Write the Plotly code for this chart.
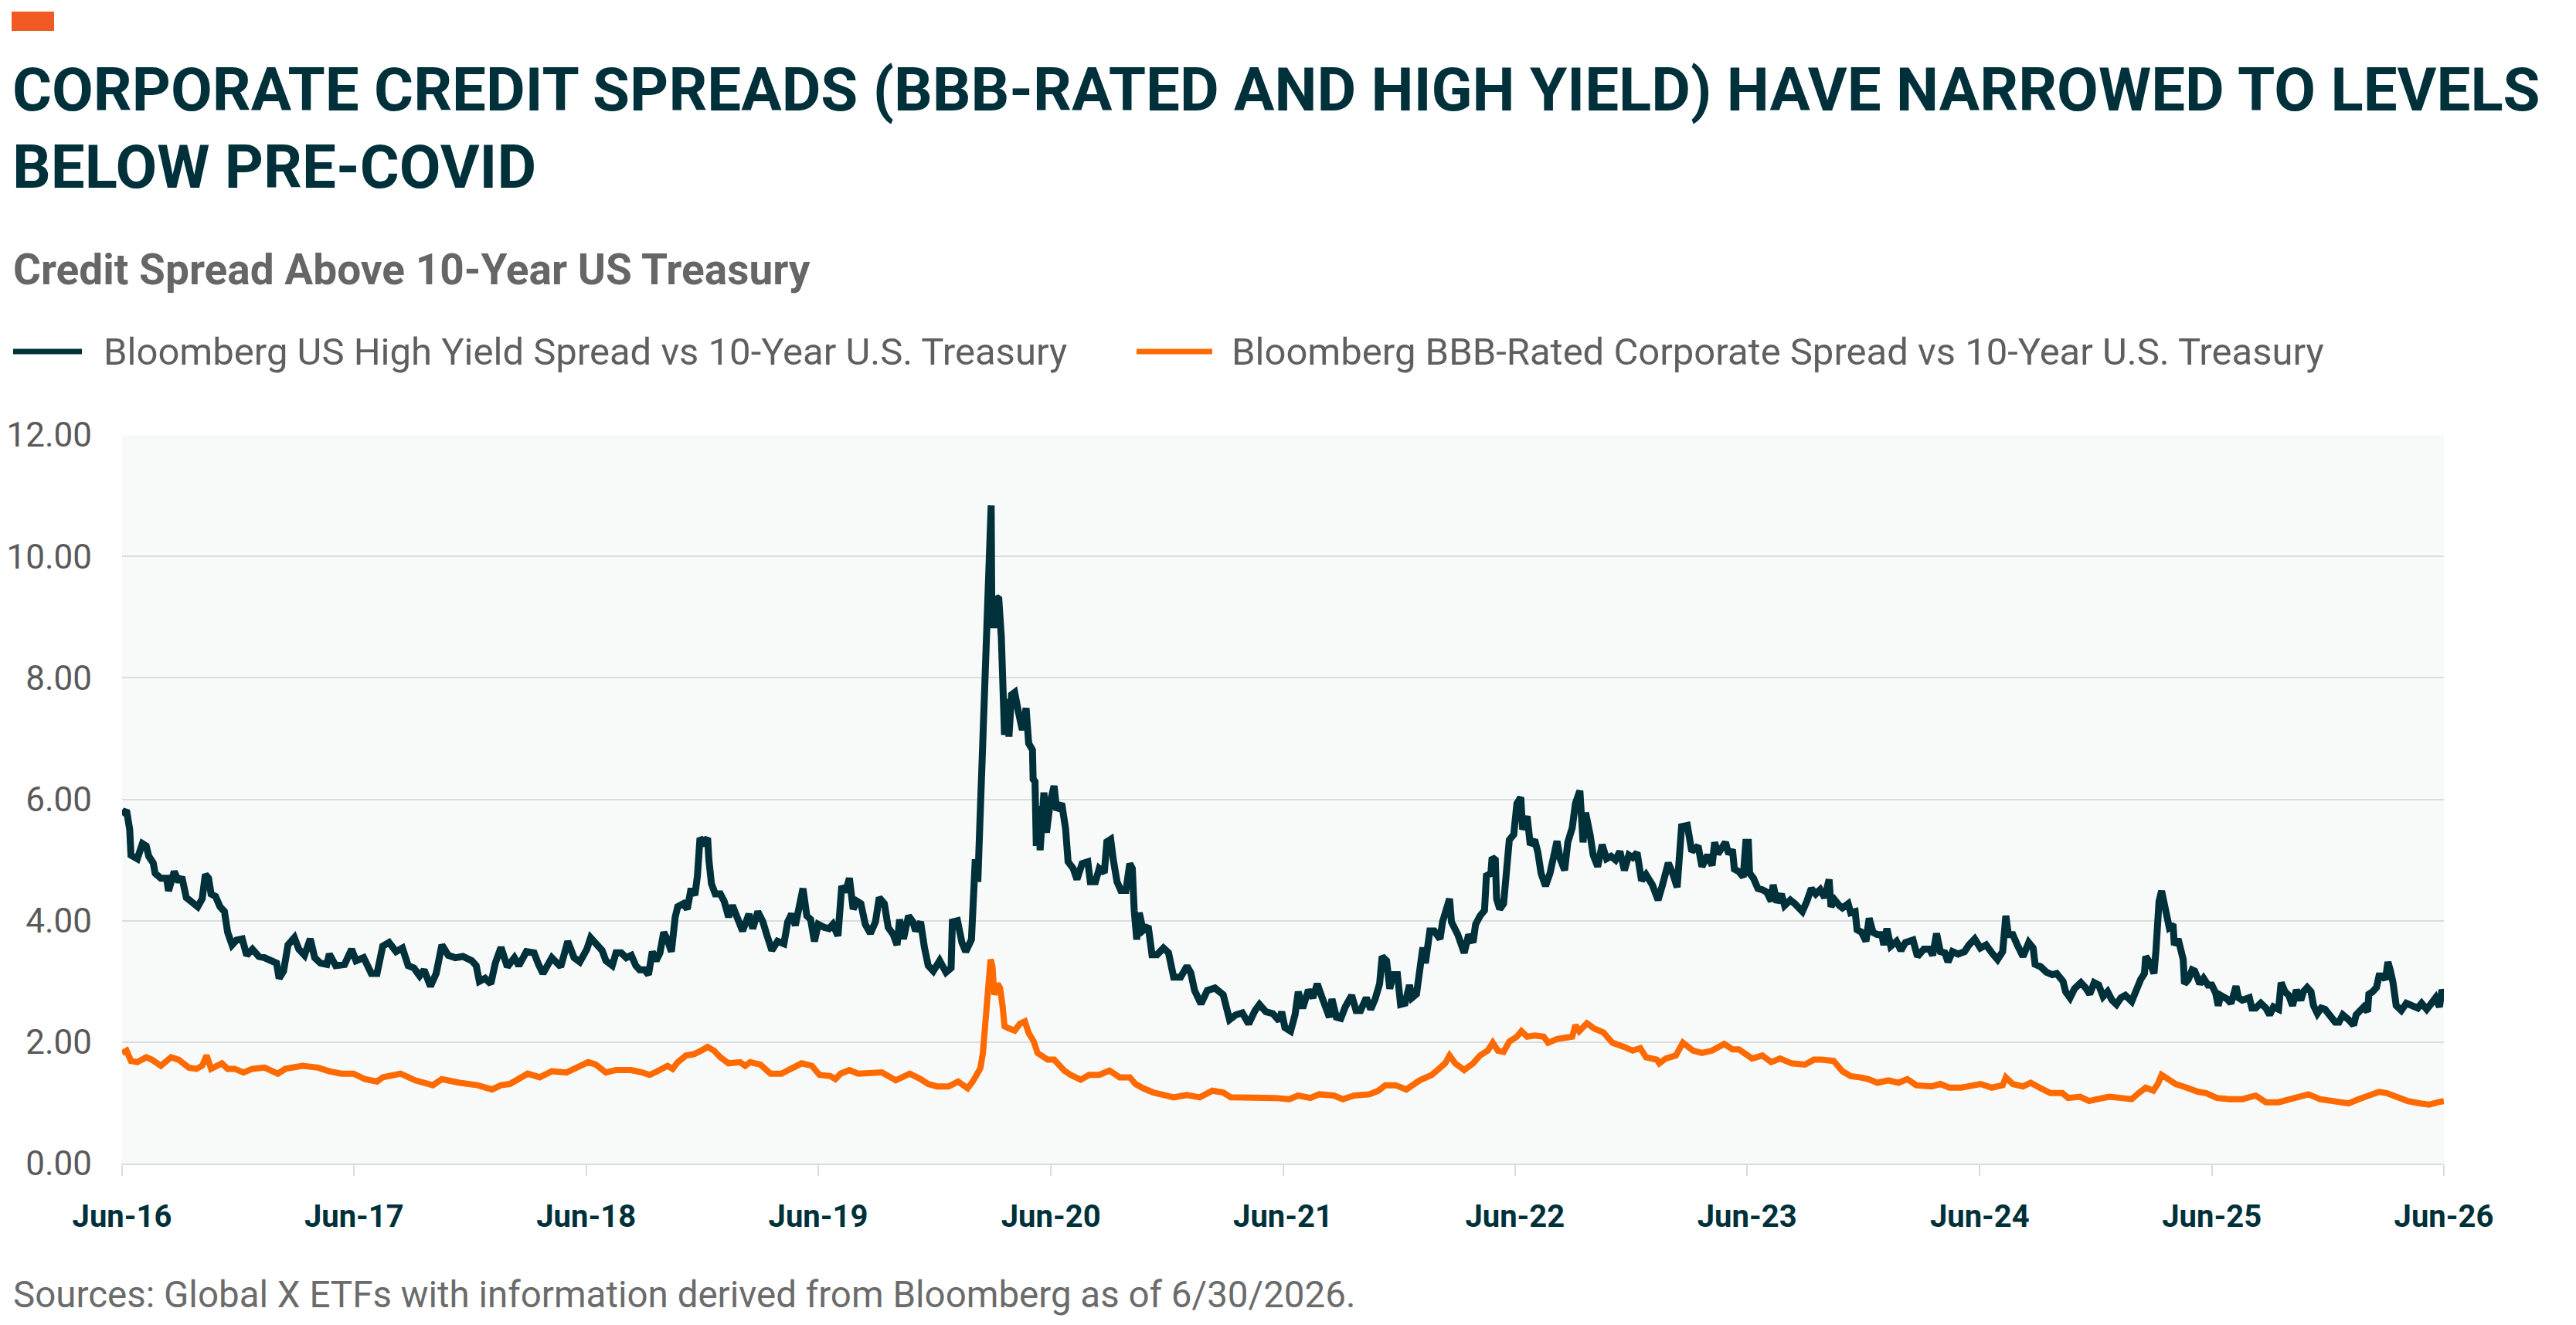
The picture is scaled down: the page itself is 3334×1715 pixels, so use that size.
import plotly.graph_objects as go

# ---------------- data ----------------
hy_dates = [
 "2016-06-30","2016-07-07","2016-07-12","2016-07-14","2016-07-24","2016-08-01","2016-08-07","2016-08-11","2016-08-18","2016-08-21",
 "2016-08-30","2016-09-08","2016-09-11","2016-09-20","2016-09-27","2016-10-02","2016-10-09","2016-10-18","2016-10-27","2016-11-03",
 "2016-11-08","2016-11-13","2016-11-17","2016-11-24","2016-12-01","2016-12-08","2016-12-13","2016-12-20","2016-12-27",
 "2017-01-05","2017-01-12","2017-01-21","2017-01-31","2017-02-09","2017-02-18","2017-02-28","2017-03-04","2017-03-11","2017-03-18",
 "2017-03-28","2017-04-04","2017-04-13","2017-04-22","2017-04-29","2017-05-08","2017-05-18","2017-05-22","2017-06-01","2017-06-15",
 "2017-06-26","2017-07-03","2017-07-15","2017-07-27","2017-08-05","2017-08-14","2017-08-24","2017-09-04","2017-09-14","2017-09-23",
 "2017-10-02","2017-10-11","2017-10-18","2017-10-28","2017-11-06","2017-11-15","2017-11-25","2017-12-06","2017-12-18",
 "2018-01-01","2018-01-08","2018-01-13","2018-01-22","2018-01-31","2018-02-07","2018-02-16","2018-02-26","2018-03-09","2018-03-16",
 "2018-03-28","2018-04-09","2018-04-16","2018-04-23","2018-05-07","2018-05-21","2018-06-01","2018-06-11","2018-06-20","2018-06-27",
 "2018-07-01","2018-07-07","2018-07-13","2018-07-19","2018-07-25","2018-07-31","2018-08-04","2018-08-10","2018-08-16","2018-08-24",
 "2018-09-01","2018-09-09","2018-09-16","2018-09-22","2018-09-30","2018-10-06","2018-10-12","2018-10-18","2018-10-24","2018-10-30",
 "2018-11-05","2018-11-11","2018-11-17","2018-11-21","2018-11-30","2018-12-06","2018-12-12","2018-12-18","2018-12-22","2018-12-26",
 "2019-01-01","2019-01-07","2019-01-09","2019-01-13","2019-01-19","2019-01-27","2019-02-02","2019-02-09","2019-02-15","2019-02-23",
 "2019-03-03","2019-03-13","2019-03-19","2019-03-27","2019-04-04","2019-04-10","2019-04-18","2019-04-27","2019-05-07","2019-05-13",
 "2019-05-19","2019-05-25","2019-05-31","2019-06-06","2019-06-12","2019-06-18","2019-06-24","2019-06-30","2019-07-09","2019-07-17",
 "2019-07-23","2019-07-31","2019-08-06","2019-08-12","2019-08-18","2019-08-24","2019-08-30","2019-09-05","2019-09-12","2019-09-20",
 "2019-09-28","2019-10-04","2019-10-12","2019-10-18","2019-10-26","2019-11-01","2019-11-05","2019-11-11","2019-11-19","2019-11-26",
 "2019-11-30","2019-12-08","2019-12-14","2019-12-20","2019-12-28",
 "2020-01-07","2020-01-17","2020-01-25","2020-01-27","2020-02-04","2020-02-11","2020-02-17","2020-02-26","2020-02-28","2020-03-03",
 "2020-03-07","2020-03-11","2020-03-15","2020-03-16","2020-03-19","2020-03-23","2020-03-26","2020-03-28","2020-03-29","2020-04-01",
 "2020-04-05","2020-04-09","2020-04-13","2020-04-15","2020-04-18","2020-04-21","2020-04-25","2020-04-29","2020-05-04","2020-05-10",
 "2020-05-16","2020-05-22","2020-05-26","2020-06-01","2020-06-02","2020-06-05","2020-06-07","2020-06-11","2020-06-13","2020-06-19",
 "2020-06-23","2020-06-29","2020-07-05","2020-07-09","2020-07-17","2020-07-23","2020-07-27","2020-08-04","2020-08-10","2020-08-18",
 "2020-08-27","2020-08-31","2020-09-08","2020-09-14","2020-09-22","2020-09-26","2020-10-02","2020-10-06","2020-10-12","2020-10-18",
 "2020-10-26","2020-11-01","2020-11-05","2020-11-08","2020-11-12","2020-11-16","2020-11-22","2020-11-30","2020-12-06","2020-12-14",
 "2020-12-24",
 "2021-01-01","2021-01-09","2021-01-20","2021-01-30","2021-02-05","2021-02-11","2021-02-21","2021-03-03","2021-03-15","2021-03-28",
 "2021-04-07","2021-04-17","2021-04-27","2021-05-07","2021-05-17","2021-05-24","2021-06-03","2021-06-14","2021-06-24","2021-06-28",
 "2021-07-03","2021-07-12","2021-07-19","2021-07-24","2021-07-31","2021-08-09","2021-08-16","2021-08-23","2021-08-30","2021-09-06",
 "2021-09-11","2021-09-15","2021-09-22","2021-09-29","2021-10-06","2021-10-16","2021-10-23","2021-10-30","2021-11-08","2021-11-15",
 "2021-11-22","2021-11-29","2021-12-03","2021-12-10","2021-12-15","2021-12-20","2021-12-27",
 "2022-01-01","2022-01-08","2022-01-15","2022-01-19","2022-01-26","2022-01-31","2022-02-05","2022-02-09","2022-02-16","2022-02-23",
 "2022-03-04","2022-03-08","2022-03-13","2022-03-19","2022-03-22","2022-04-01","2022-04-11","2022-04-18","2022-04-25","2022-04-29",
 "2022-05-06","2022-05-13","2022-05-16","2022-05-23","2022-05-25","2022-05-30","2022-06-01","2022-06-06","2022-06-12","2022-06-16",
 "2022-06-21","2022-06-28","2022-07-03","2022-07-09","2022-07-12","2022-07-19","2022-07-24","2022-07-31","2022-08-05","2022-08-10",
 "2022-08-17","2022-08-24","2022-08-28","2022-09-04","2022-09-09","2022-09-16","2022-09-21","2022-09-28","2022-10-03","2022-10-10",
 "2022-10-15","2022-10-19","2022-10-26","2022-10-31","2022-11-07","2022-11-14","2022-11-21","2022-11-28","2022-12-05","2022-12-12",
 "2022-12-19","2022-12-26",
 "2023-01-01","2023-01-08","2023-01-15","2023-01-22","2023-02-01","2023-02-10","2023-02-17","2023-02-26","2023-03-05","2023-03-12",
 "2023-03-19","2023-03-28","2023-04-04","2023-04-14","2023-04-20","2023-04-29","2023-05-06","2023-05-10","2023-05-15","2023-05-22",
 "2023-05-27","2023-06-01","2023-06-07","2023-06-10","2023-06-17","2023-06-24","2023-06-28","2023-07-02","2023-07-04","2023-07-10",
 "2023-07-17","2023-07-24","2023-07-31","2023-08-07","2023-08-10","2023-08-16","2023-08-23","2023-08-28","2023-09-06","2023-09-13",
 "2023-09-25","2023-10-02","2023-10-09","2023-10-16","2023-10-23","2023-10-30","2023-11-06","2023-11-09","2023-11-15","2023-11-22",
 "2023-11-27","2023-12-06","2023-12-10","2023-12-17","2023-12-20","2023-12-27",
 "2024-01-03","2024-01-08","2024-01-14","2024-01-21","2024-01-28","2024-01-31","2024-02-05","2024-02-11","2024-02-20","2024-02-27",
 "2024-03-05","2024-03-17","2024-03-24","2024-04-03","2024-04-12","2024-04-17","2024-04-23","2024-04-29","2024-05-06","2024-05-11",
 "2024-05-18","2024-05-27","2024-06-06","2024-06-13","2024-06-22","2024-07-01","2024-07-10","2024-07-19","2024-07-28","2024-08-05",
 "2024-08-07","2024-08-10","2024-08-14","2024-08-21","2024-08-28","2024-09-06","2024-09-15","2024-09-22","2024-09-25","2024-10-04",
 "2024-10-13","2024-10-22","2024-10-29","2024-11-08","2024-11-12","2024-11-19","2024-11-26","2024-12-06","2024-12-13","2024-12-20",
 "2024-12-27",
 "2025-01-03","2025-01-10","2025-01-17","2025-01-24","2025-01-31","2025-02-07","2025-02-14","2025-02-24","2025-03-03","2025-03-10",
 "2025-03-16","2025-03-18","2025-03-25","2025-03-31","2025-04-03","2025-04-08","2025-04-12","2025-04-18","2025-04-24","2025-04-30",
 "2025-05-02","2025-05-08","2025-05-12","2025-05-16","2025-05-18","2025-05-24","2025-05-30","2025-06-03","2025-06-07","2025-06-11",
 "2025-06-17","2025-06-24","2025-06-30","2025-07-06","2025-07-10","2025-07-14","2025-07-24","2025-07-30","2025-08-03","2025-08-07",
 "2025-08-11","2025-08-17","2025-08-28","2025-09-01","2025-09-07","2025-09-15","2025-09-23","2025-09-29","2025-10-05","2025-10-13",
 "2025-10-17","2025-10-23","2025-10-29","2025-11-04","2025-11-10","2025-11-17","2025-11-21","2025-11-27","2025-12-03","2025-12-07",
 "2025-12-13","2025-12-19","2025-12-25",
 "2026-01-02","2026-01-10","2026-01-16","2026-01-22","2026-01-31","2026-02-08","2026-02-12","2026-02-18","2026-02-24","2026-03-02",
 "2026-03-04","2026-03-10","2026-03-16","2026-03-20","2026-03-26","2026-03-30","2026-04-03","2026-04-07","2026-04-11","2026-04-16",
 "2026-04-24","2026-05-02","2026-05-12","2026-05-20","2026-05-26","2026-06-03","2026-06-09","2026-06-17","2026-06-23","2026-06-27",
 "2026-06-30",
]
hy_values = [
 5.74,5.82,5.50,5.08,5.02,5.27,5.23,5.06,4.95,4.78,
 4.70,4.70,4.49,4.81,4.64,4.72,4.38,4.32,4.23,4.36,
 4.76,4.70,4.44,4.40,4.23,4.15,3.81,3.60,3.68,
 3.70,3.43,3.53,3.41,3.39,3.34,3.30,3.05,3.17,3.60,
 3.72,3.53,3.43,3.70,3.39,3.30,3.28,3.45,3.26,3.28,
 3.53,3.34,3.39,3.13,3.13,3.58,3.64,3.49,3.55,3.26,
 3.22,3.09,3.19,2.92,3.13,3.60,3.43,3.39,3.41,
 3.34,3.26,3.00,3.05,2.96,3.30,3.56,3.24,3.39,3.26,
 3.49,3.47,3.28,3.13,3.39,3.24,3.66,3.39,3.32,3.43,
 3.53,3.72,3.66,3.58,3.51,3.34,3.30,3.26,3.47,3.47,
 3.39,3.43,3.26,3.19,3.19,3.11,3.49,3.34,3.47,3.81,
 3.68,3.49,4.06,4.23,4.28,4.19,4.53,4.42,4.74,5.36,
 5.29,5.36,5.00,4.61,4.44,4.44,4.32,4.06,4.25,4.04,
 3.83,4.11,3.87,4.15,3.98,3.77,3.51,3.66,3.62,3.98,
 4.11,3.92,4.28,4.53,4.08,4.02,3.66,3.94,3.89,3.87,
 3.94,3.75,4.57,4.47,4.70,4.19,4.32,4.28,3.94,3.79,
 3.98,4.38,4.28,3.89,3.77,3.60,4.02,3.70,4.08,3.98,
 3.83,3.98,3.56,3.26,3.17,
 3.34,3.15,3.22,3.98,4.00,3.64,3.49,3.69,4.17,5.01,
 4.64,5.96,6.62,7.43,8.31,10.07,10.84,10.84,9.19,8.82,
 9.33,9.30,8.67,7.72,7.06,7.65,7.03,7.72,7.76,7.43,
 7.14,7.50,6.92,6.81,6.33,6.29,5.23,5.89,5.16,6.11,
 5.45,5.96,6.22,5.82,5.93,5.52,4.97,4.86,4.68,4.94,
 4.97,4.64,4.64,4.86,4.79,5.30,5.34,5.01,4.64,4.50,
 4.50,4.94,4.86,4.17,3.69,4.13,3.84,3.91,3.44,3.44,
 3.55,
 3.47,3.07,3.07,3.25,3.14,2.85,2.63,2.85,2.89,2.78,
 2.37,2.45,2.48,2.30,2.52,2.62,2.50,2.47,2.35,2.50,
 2.24,2.18,2.45,2.83,2.56,2.86,2.73,2.96,2.75,2.54,
 2.41,2.71,2.41,2.39,2.58,2.77,2.52,2.52,2.73,2.54,
 2.71,2.96,3.41,3.34,2.88,3.11,3.11,
 2.62,2.64,2.94,2.73,2.79,3.22,3.56,3.30,3.83,3.83,
 3.70,3.98,4.21,4.36,3.98,3.77,3.47,3.77,3.64,3.94,
 4.08,4.17,4.74,4.78,5.04,5.00,4.36,4.19,4.28,4.78,
 5.33,5.42,5.93,6.03,5.50,5.72,5.25,5.33,5.12,4.78,
 4.57,4.78,4.95,5.31,5.02,4.83,5.29,5.53,5.93,6.14,
 5.29,5.78,5.42,5.08,4.89,5.25,5.02,5.06,5.00,5.14,
 4.83,5.08,
 5.04,5.12,4.66,4.76,4.59,4.34,4.59,4.95,4.78,4.55,
 5.55,5.57,5.14,5.23,4.89,5.08,4.91,5.29,5.10,5.23,
 5.29,5.10,5.17,4.85,4.81,4.72,5.29,5.29,4.78,4.70,
 4.53,4.51,4.47,4.32,4.59,4.30,4.44,4.25,4.34,4.28,
 4.15,4.32,4.53,4.44,4.51,4.38,4.68,4.23,4.34,4.25,
 4.21,4.28,4.13,4.15,3.85,3.81,
 3.66,4.04,3.81,3.77,3.77,3.60,3.87,3.58,3.66,3.51,
 3.64,3.68,3.41,3.53,3.53,3.43,3.79,3.49,3.47,3.32,
 3.49,3.45,3.49,3.60,3.70,3.55,3.60,3.47,3.36,3.49,
 3.94,4.08,3.77,3.77,3.60,3.41,3.64,3.55,3.28,3.24,
 3.15,3.11,3.13,3.00,2.83,2.73,2.88,2.98,2.90,2.79,
 2.98,
 2.94,2.75,2.83,2.69,2.62,2.73,2.77,2.67,2.86,3.03,
 3.13,3.41,3.30,3.13,3.49,4.32,4.49,4.15,3.89,3.94,
 3.60,3.70,3.47,3.36,2.96,3.03,3.19,3.17,3.07,2.96,
 3.05,2.94,2.94,2.81,2.60,2.77,2.71,2.64,2.77,2.92,
 2.73,2.69,2.73,2.56,2.56,2.64,2.56,2.45,2.58,2.54,
 2.98,2.83,2.77,2.60,2.86,2.69,2.83,2.90,2.83,2.60,
 2.47,2.56,2.54,
 2.45,2.33,2.33,2.45,2.37,2.28,2.45,2.50,2.58,2.50,
 2.79,2.83,2.90,3.09,3.09,3.03,3.32,3.17,2.98,2.60,
 2.52,2.64,2.58,2.56,2.64,2.54,2.62,2.73,2.58,2.86,
 2.79,
]

bbb_dates = [
 "2016-06-30","2016-07-07","2016-07-14","2016-07-24","2016-08-07","2016-08-16","2016-08-30","2016-09-15","2016-09-27","2016-10-13",
 "2016-10-25","2016-11-03","2016-11-10","2016-11-17","2016-12-04","2016-12-13","2016-12-24",
 "2017-01-07","2017-01-21","2017-02-09","2017-03-02","2017-03-14","2017-04-10","2017-05-04","2017-05-22","2017-06-10","2017-06-29",
 "2017-07-17","2017-08-05","2017-08-14","2017-09-11","2017-10-04","2017-11-01","2017-11-15","2017-12-13",
 "2018-01-10","2018-02-02","2018-02-16","2018-03-02","2018-03-16","2018-03-30","2018-04-18","2018-05-07","2018-05-30","2018-06-20",
 "2018-07-03","2018-07-15","2018-07-31","2018-08-16","2018-09-09","2018-09-26","2018-10-08","2018-10-20","2018-11-05","2018-11-13",
 "2018-11-21","2018-12-04","2018-12-16","2018-12-28",
 "2019-01-07","2019-01-17","2019-01-27","2019-02-09","2019-02-27","2019-03-07","2019-03-15","2019-03-31","2019-04-16","2019-05-03",
 "2019-05-19","2019-06-04","2019-06-20","2019-07-02","2019-07-19","2019-07-27","2019-08-04","2019-08-18","2019-09-01","2019-09-18",
 "2019-10-08","2019-10-30","2019-11-21","2019-12-08","2019-12-20",
 "2020-01-03","2020-01-21","2020-02-05","2020-02-17","2020-02-20","2020-02-28","2020-03-05","2020-03-11","2020-03-15","2020-03-19",
 "2020-03-23","2020-03-27","2020-03-30","2020-04-02","2020-04-07","2020-04-11","2020-04-15","2020-04-18","2020-04-24","2020-05-04",
 "2020-05-12","2020-05-20","2020-05-26","2020-06-03","2020-06-09","2020-06-17","2020-06-25","2020-07-05","2020-07-11","2020-07-21",
 "2020-07-31","2020-08-16","2020-08-29","2020-09-14","2020-09-30","2020-10-16","2020-11-01","2020-11-10","2020-11-22","2020-12-08",
 "2020-12-24",
 "2021-01-09","2021-01-30","2021-02-19","2021-03-11","2021-03-28","2021-04-09","2021-04-29","2021-05-15","2021-05-20","2021-06-17",
 "2021-07-10","2021-07-24","2021-08-12","2021-08-26","2021-09-18","2021-10-02","2021-10-20","2021-11-13","2021-11-27","2021-12-08",
 "2021-12-24",
 "2022-01-10","2022-01-31","2022-02-19","2022-02-28","2022-03-12","2022-03-19","2022-03-28","2022-04-11","2022-04-25","2022-05-06",
 "2022-05-18","2022-05-26","2022-06-03","2022-06-12","2022-06-21","2022-07-03","2022-07-10","2022-07-19","2022-07-31","2022-08-14",
 "2022-08-21","2022-09-04","2022-09-16","2022-09-28","2022-10-03","2022-10-09","2022-10-21","2022-11-02","2022-11-16","2022-11-30",
 "2022-12-19",
 "2023-01-01","2023-01-13","2023-01-22","2023-02-08","2023-02-12","2023-02-22","2023-03-10","2023-03-21","2023-04-06","2023-04-20",
 "2023-05-06","2023-05-25","2023-06-07","2023-06-17","2023-06-26","2023-07-08","2023-07-24","2023-08-07","2023-08-21","2023-09-08",
 "2023-09-29","2023-10-13","2023-10-25","2023-11-13","2023-11-27","2023-12-10","2023-12-24",
 "2024-01-07","2024-01-21","2024-02-07","2024-02-23","2024-03-08","2024-03-22","2024-04-15","2024-04-29","2024-05-13","2024-06-01",
 "2024-06-15","2024-07-01","2024-07-19","2024-08-05","2024-08-10","2024-08-21","2024-09-06","2024-09-18","2024-10-02","2024-10-19",
 "2024-11-07","2024-11-16","2024-12-05","2024-12-19",
 "2025-01-01","2025-01-20","2025-02-07","2025-02-24","2025-03-07","2025-03-18","2025-03-30","2025-04-06","2025-04-12","2025-04-22",
 "2025-05-04","2025-05-16","2025-05-28","2025-06-09","2025-06-21","2025-07-08","2025-07-28","2025-08-17","2025-09-07","2025-09-23",
 "2025-10-13","2025-10-29","2025-11-15","2025-11-29","2025-12-17",
 "2026-01-06","2026-01-31","2026-02-16","2026-03-08","2026-03-20","2026-04-01","2026-04-14","2026-05-04","2026-05-24","2026-06-07",
 "2026-06-21","2026-06-30",
]
bbb_values = [
 1.82,1.86,1.69,1.67,1.75,1.71,1.61,1.75,1.71,1.58,
 1.56,1.61,1.78,1.56,1.65,1.56,1.56,
 1.50,1.56,1.58,1.48,1.56,1.61,1.58,1.52,1.48,1.48,
 1.39,1.35,1.42,1.48,1.37,1.29,1.39,1.33,
 1.29,1.22,1.29,1.31,1.39,1.48,1.42,1.52,1.50,1.60,
 1.67,1.63,1.50,1.54,1.54,1.50,1.46,1.52,1.61,1.56,
 1.67,1.78,1.80,1.86,
 1.92,1.86,1.75,1.65,1.67,1.61,1.67,1.63,1.48,1.48,
 1.56,1.65,1.61,1.46,1.44,1.39,1.48,1.54,1.48,1.48,
 1.50,1.37,1.48,1.39,1.31,
 1.27,1.27,1.35,1.27,1.24,1.35,1.46,1.57,1.82,2.30,
 2.96,3.36,3.25,2.78,2.96,2.89,2.59,2.26,2.23,2.19,
 2.30,2.34,2.15,2.01,1.82,1.75,1.71,1.71,1.64,1.53,
 1.46,1.38,1.46,1.46,1.53,1.42,1.42,1.31,1.24,1.17,
 1.13,
 1.09,1.13,1.09,1.20,1.17,1.09,1.09,1.08,1.10,1.08,
 1.06,1.12,1.08,1.14,1.12,1.06,1.12,1.14,1.20,1.29,
 1.29,
 1.22,1.37,1.46,1.54,1.65,1.78,1.65,1.54,1.65,1.78,
 1.86,1.99,1.86,1.84,2.01,2.09,2.18,2.09,2.11,2.09,
 1.99,2.05,2.07,2.09,2.28,2.18,2.31,2.22,2.16,1.99,
 1.92,
 1.86,1.90,1.75,1.71,1.65,1.73,1.78,1.99,1.86,1.82,
 1.86,1.97,1.88,1.88,1.82,1.73,1.78,1.67,1.73,1.65,
 1.63,1.71,1.71,1.69,1.52,1.44,1.42,
 1.39,1.33,1.37,1.33,1.39,1.29,1.27,1.31,1.25,1.25,
 1.27,1.31,1.25,1.29,1.42,1.31,1.27,1.33,1.25,1.16,
 1.16,1.08,1.10,1.03,
 1.06,1.10,1.08,1.06,1.16,1.25,1.20,1.31,1.46,1.39,
 1.31,1.27,1.22,1.18,1.16,1.08,1.06,1.06,1.12,1.01,
 1.01,1.06,1.12,1.14,1.06,
 1.03,0.99,1.06,1.12,1.18,1.16,1.10,1.03,0.99,0.97,
 1.01,1.03,
]

series_names = [
 "Bloomberg US High Yield Spread vs 10-Year U.S. Treasury",
 "Bloomberg BBB-Rated Corporate Spread vs 10-Year U.S. Treasury",
]
tick_dates = ["2016-06-30","2017-06-30","2018-06-30","2019-06-30","2020-06-30",
              "2021-06-30","2022-06-30","2023-06-30","2024-06-30","2025-06-30","2026-06-30"]
tick_labels = ["Jun-16","Jun-17","Jun-18","Jun-19","Jun-20","Jun-21","Jun-22","Jun-23","Jun-24","Jun-25","Jun-26"]
y_ticks = [0, 2, 4, 6, 8, 10, 12]

title_lines = ["CORPORATE CREDIT SPREADS (BBB-RATED AND HIGH YIELD) HAVE NARROWED TO LEVELS",
               "BELOW PRE-COVID"]
subtitle = "Credit Spread Above 10-Year US Treasury"
source_note = "Sources: Global X ETFs with information derived from Bloomberg as of 6/30/2026."

# ---------------- styling ----------------
W, H = 3334, 1715
L, R, T, B = 158, 171, 563, 209
PW, PH = W - L - R, H - T - B
FONT = "Roboto, sans-serif"
DARK = "#00313a"
ORANGE = "#ff6a00"
ACCENT = "#f15a24"
GRID = "#dcdcdc"

def px(x):
    return (x - L) / PW

def py(y):
    return (H - B - y) / PH

fig = go.Figure()
fig.add_trace(go.Scatter(x=hy_dates, y=hy_values, mode="lines", name=series_names[0],
                         line=dict(color=DARK, width=9, shape="linear")))
fig.add_trace(go.Scatter(x=bbb_dates, y=bbb_values, mode="lines", name=series_names[1],
                         line=dict(color=ORANGE, width=8, shape="linear")))

fig.update_layout(
    width=W, height=H,
    margin=dict(l=L, r=R, t=T, b=B, pad=0, autoexpand=False),
    paper_bgcolor="white",
    plot_bgcolor="#f8f9f9",
    showlegend=False,
    font=dict(family=FONT, color="#595959"),
)
fig.update_xaxes(
    type="date", automargin=False,
    range=[tick_dates[0], tick_dates[-1]],
    tickmode="array", tickvals=tick_dates, ticktext=tick_labels,
    ticks="outside", ticklen=14, tickwidth=2, tickcolor=GRID,
    showgrid=False, showline=True, linecolor=GRID, linewidth=2,
    tickfont=dict(family=FONT, size=40, color=DARK, weight="bold"),
    ticklabelstandoff=18,
    zeroline=False,
)
fig.update_yaxes(
    automargin=False,
    range=[0, 12],
    tickmode="array", tickvals=y_ticks, ticktext=[f"{v:.2f}" for v in y_ticks],
    showgrid=True, gridcolor=GRID, gridwidth=2,
    zeroline=False, showline=False, ticks="",
    tickfont=dict(family=FONT, size=44, color="#595959"),
    ticklabelstandoff=38,
)

# accent square
fig.add_shape(type="rect", xref="paper", yref="paper",
              x0=px(15), x1=px(70), y0=py(40), y1=py(15),
              fillcolor=ACCENT, line=dict(width=0))

ann = []
ann.append(dict(text=title_lines[0], x=px(14), y=py(117), font=dict(size=78, color=DARK, weight="bold")))
ann.append(dict(text=title_lines[1], x=px(14), y=py(216), font=dict(size=78, color=DARK, weight="bold")))
ann.append(dict(text=subtitle, x=px(15), y=py(349), font=dict(size=55, color="#666666", weight="bold")))
ann.append(dict(text=series_names[0], x=px(132), y=py(455), font=dict(size=49, color="#5f5f5f")))
ann.append(dict(text=series_names[1], x=px(1592), y=py(455), font=dict(size=49, color="#5f5f5f")))
ann.append(dict(text=source_note, x=px(15), y=py(1676), font=dict(size=47.5, color="#6b6b6b")))
for a in ann:
    a.update(xref="paper", yref="paper", xanchor="left", yanchor="middle", showarrow=False)
    a["font"]["family"] = FONT
fig.update_layout(annotations=ann)

# legend keys
fig.add_shape(type="line", xref="paper", yref="paper", x0=px(17), x1=px(106), y0=py(455), y1=py(455),
              line=dict(color=DARK, width=7))
fig.add_shape(type="line", xref="paper", yref="paper", x0=px(1471), x1=px(1569), y0=py(455), y1=py(455),
              line=dict(color=ORANGE, width=7))

fig.write_html("out.html")
